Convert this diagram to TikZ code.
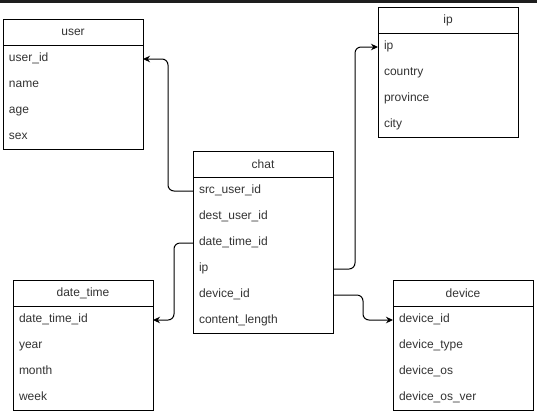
\documentclass[tikz,border=0pt]{standalone}
\usepackage{fontspec}
\setmainfont{Liberation Sans}
\usetikzlibrary{arrows.meta}
\definecolor{txt}{HTML}{333333}
\definecolor{strip}{HTML}{1E1E1E}
\tikzset{
  hdr/.style={draw=black, line width=1pt, minimum width=140pt, minimum height=26pt, inner sep=0pt, outer sep=0pt, font=\fontsize{12}{14}\selectfont, text=txt},
  row/.style={minimum height=26pt, text width=128pt, inner xsep=6pt, inner ysep=0pt, outer sep=0pt, align=left, font=\fontsize{12}{14}\selectfont, text=txt},
  body/.style={draw=black, line width=1pt},
  conn/.style={draw=black, line width=1pt, rounded corners=6pt, -{Stealth[length=7pt,width=6.5pt]}}
}
\newcommand{\ertable}[5]{%
  \node[hdr, anchor=north west] (#1) at (#2,#3) {#4};
  \foreach \t [count=\i] in {#5} {
    \node[row, anchor=north west] (#1-\i) at (#2,#3+26*\i+1) {\strut\t};
  }
}
\begin{document}
\begin{tikzpicture}[x=1pt,y=-1pt]
  \useasboundingbox (0,0) rectangle (537,416);
  \fill[white] (0,0) rectangle (537,416);
  \fill[strip] (0,0) rectangle (537,3);

  \ertable{user}{3}{19}{user}{user\_id,name,age,sex}
  \draw[body] (user.south west) rectangle ([yshift=1pt]user-4.south east);

  \ertable{chat}{193}{151}{chat}{src\_user\_id,dest\_user\_id,date\_time\_id,ip,device\_id,content\_length}
  \draw[body] (chat.south west) rectangle ([yshift=1pt]chat-6.south east);

  \ertable{ip}{378}{7}{ip}{ip,country,province,city}
  \draw[body] (ip.south west) rectangle ([yshift=1pt]ip-4.south east);

  \ertable{dt}{13}{280}{date\_time}{date\_time\_id,year,month,week}
  \draw[body] (dt.south west) rectangle ([yshift=1pt]dt-4.south east);

  \ertable{dev}{393}{280}{device}{device\_id,device\_type,device\_os,device\_os\_ver}
  \draw[body] (dev.south west) rectangle ([yshift=1pt]dev-4.south east);

  \draw[conn] (chat-1.west) -- ++(-25,0) |- (user-1.east);
  \draw[conn] (chat-4.east) -- ++(22,0) |- (ip-1.west);
  \draw[conn] (chat-3.west) -- ++(-19,0) |- (dt-1.east);
  \draw[conn] (chat-5.east) -- ++(30,0) |- (dev-1.west);
\end{tikzpicture}
\end{document}
